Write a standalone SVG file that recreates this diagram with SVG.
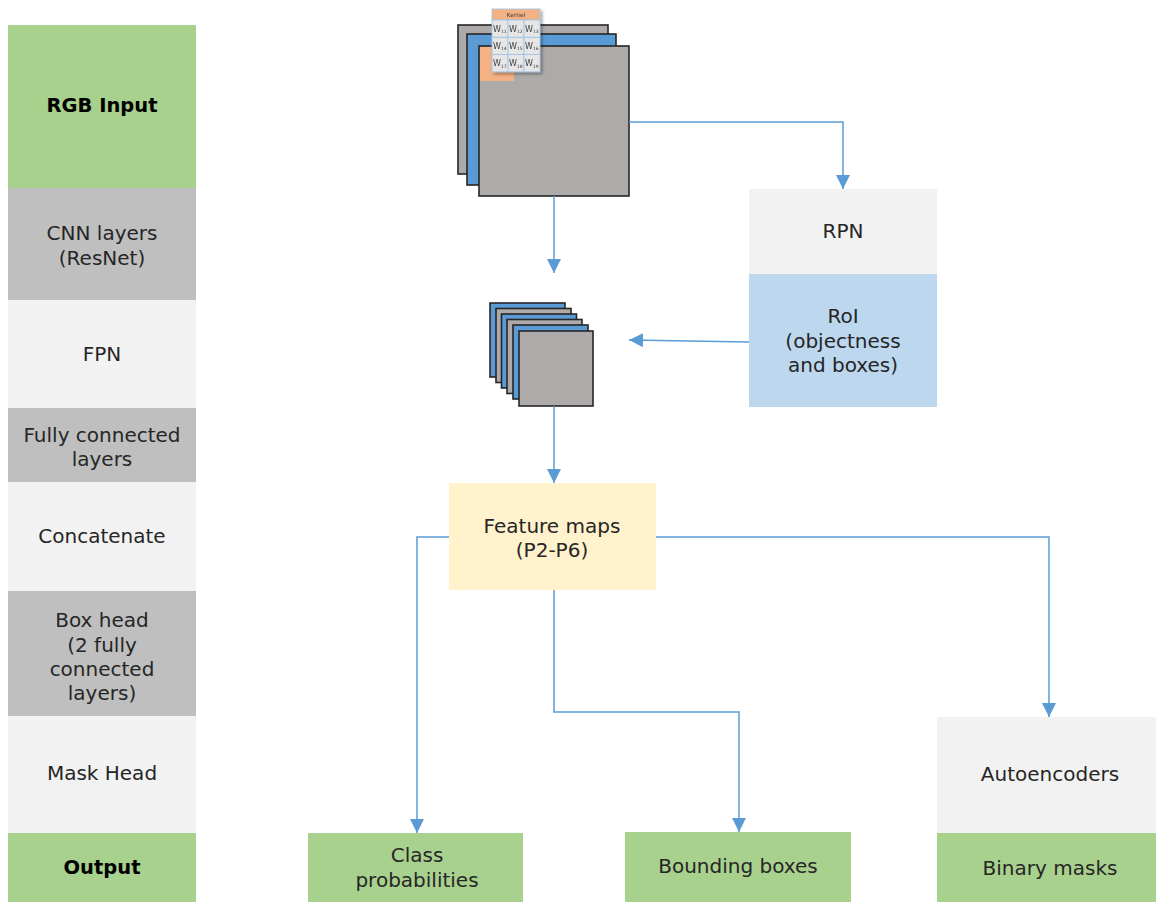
<svg xmlns="http://www.w3.org/2000/svg" width="1156" height="902" viewBox="0 0 1156 902">
  <style>
    .lbl { font-family: "DejaVu Sans", Verdana, sans-serif; font-size: 20px; fill: #262626; text-anchor: middle; }
    .bold { font-weight: bold; fill: #000; font-size: 19.5px; }
    .green { fill: #A9D18E; }
    .grey { fill: #BFBFBF; }
    .light { fill: #F2F2F2; }
    .blue { fill: #BDD7EE; }
    .cream { fill: #FFF2CC; }
    .sheet { stroke: #262626; stroke-width: 1.6; }
    .sheetg { fill: #AEAAAA; }
    .sheetb { fill: #5B9BD5; }
    .conn { fill: none; stroke: #5B9BD5; stroke-width: 1.5; marker-end: url(#arrow); }
    .cell { fill: #E7E6E6; stroke: #9DC3E6; stroke-width: 0.8; }
    .w { font-family: "DejaVu Sans", Verdana, sans-serif; font-size: 8px; fill: #404040; }
    .sub { font-size: 4.5px; }
  </style>
  <defs>
    <marker id="arrow" markerUnits="userSpaceOnUse" markerWidth="14" markerHeight="14" viewBox="0 0 14 14" refX="14" refY="7" orient="auto">
      <path d="M0,0 L14,7 L0,14 z" fill="#5B9BD5"/>
    </marker>
    <filter id="shadow" x="-20%" y="-20%" width="150%" height="150%">
      <feDropShadow dx="2" dy="2" stdDeviation="1.5" flood-color="#000" flood-opacity="0.35"/>
    </filter>
  </defs>

  <rect width="1156" height="902" fill="#FFFFFF"/>

  <!-- stage column on the left -->
  <g id="stage-rgb-input">
    <rect class="green" x="8" y="25" width="188" height="163"/>
    <text class="lbl bold" x="102" y="112">RGB Input</text>
  </g>
  <g id="stage-cnn">
    <rect class="grey" x="8" y="188" width="188" height="112"/>
    <text class="lbl" x="102" y="240">CNN layers</text>
    <text class="lbl" x="102" y="265">(ResNet)</text>
  </g>
  <g id="stage-fpn">
    <rect class="light" x="8" y="300" width="188" height="108"/>
    <text class="lbl" x="102" y="361">FPN</text>
  </g>
  <g id="stage-fc">
    <rect class="grey" x="8" y="408" width="188" height="74"/>
    <text class="lbl" x="102" y="442">Fully connected</text>
    <text class="lbl" x="102" y="466">layers</text>
  </g>
  <g id="stage-concat">
    <rect class="light" x="8" y="482" width="188" height="109"/>
    <text class="lbl" x="102" y="543">Concatenate</text>
  </g>
  <g id="stage-box-head">
    <rect class="grey" x="8" y="591" width="188" height="125"/>
    <text class="lbl" x="102" y="627">Box head</text>
    <text class="lbl" x="102" y="652">(2 fully</text>
    <text class="lbl" x="102" y="676">connected</text>
    <text class="lbl" x="102" y="700">layers)</text>
  </g>
  <g id="stage-mask-head">
    <rect class="light" x="8" y="716" width="188" height="117"/>
    <text class="lbl" x="102" y="780">Mask Head</text>
  </g>
  <g id="stage-output">
    <rect class="green" x="8" y="833" width="188" height="69"/>
    <text class="lbl bold" x="102" y="874">Output</text>
  </g>

  <!-- RGB input sheets with convolution kernel -->
  <g id="input-image">
    <rect class="sheet sheetg" x="458" y="25" width="150" height="149"/>
    <rect class="sheet sheetb" x="467" y="34" width="149" height="151"/>
    <rect class="sheet sheetg" x="479" y="46" width="150" height="150"/>
    <rect x="480" y="47" width="34" height="34" fill="#F4B183"/>
    <g id="kernel" filter="url(#shadow)">
      <rect x="492" y="9" width="48" height="11" fill="#F4B183" stroke="#9DC3E6" stroke-width="0.8"/>
      <text x="516" y="17" font-family="DejaVu Sans, sans-serif" font-size="6" fill="#404040" text-anchor="middle">Kernel</text>
      <rect class="cell" x="492" y="20" width="16" height="17.3"/>
      <rect class="cell" x="508" y="20" width="16" height="17.3"/>
      <rect class="cell" x="524" y="20" width="16" height="17.3"/>
      <rect class="cell" x="492" y="37.3" width="16" height="17.3"/>
      <rect class="cell" x="508" y="37.3" width="16" height="17.3"/>
      <rect class="cell" x="524" y="37.3" width="16" height="17.3"/>
      <rect class="cell" x="492" y="54.6" width="16" height="17.3"/>
      <rect class="cell" x="508" y="54.6" width="16" height="17.3"/>
      <rect class="cell" x="524" y="54.6" width="16" height="17.3"/>
      <text class="w" x="493" y="31.5">W<tspan class="sub" dy="1.5">11</tspan></text>
      <text class="w" x="509" y="31.5">W<tspan class="sub" dy="1.5">12</tspan></text>
      <text class="w" x="525" y="31.5">W<tspan class="sub" dy="1.5">13</tspan></text>
      <text class="w" x="493" y="48.8">W<tspan class="sub" dy="1.5">14</tspan></text>
      <text class="w" x="509" y="48.8">W<tspan class="sub" dy="1.5">15</tspan></text>
      <text class="w" x="525" y="48.8">W<tspan class="sub" dy="1.5">16</tspan></text>
      <text class="w" x="493" y="66.1">W<tspan class="sub" dy="1.5">17</tspan></text>
      <text class="w" x="509" y="66.1">W<tspan class="sub" dy="1.5">18</tspan></text>
      <text class="w" x="525" y="66.1">W<tspan class="sub" dy="1.5">19</tspan></text>
    </g>
  </g>

  <!-- stacked FPN levels -->
  <g id="fpn-stack">
    <rect class="sheet sheetb" x="490" y="303" width="75" height="74"/>
    <rect class="sheet sheetg" x="496" y="308.5" width="75" height="74"/>
    <rect class="sheet sheetb" x="501.5" y="314" width="75" height="74"/>
    <rect class="sheet sheetg" x="507" y="319.5" width="75" height="74"/>
    <rect class="sheet sheetb" x="513" y="325" width="75" height="74"/>
    <rect class="sheet sheetg" x="519" y="331" width="74" height="75"/>
  </g>

  <g id="rpn">
    <rect class="light" x="749" y="189" width="188" height="85"/>
    <text class="lbl" x="843" y="238">RPN</text>
  </g>
  <g id="roi">
    <rect class="blue" x="749" y="274" width="188" height="133"/>
    <text class="lbl" x="843" y="323">RoI</text>
    <text class="lbl" x="843" y="348">(objectness</text>
    <text class="lbl" x="843" y="372">and boxes)</text>
  </g>

  <g id="feature-maps">
    <rect class="cream" x="449" y="483" width="207" height="107"/>
    <text class="lbl" x="552" y="533">Feature maps</text>
    <text class="lbl" x="552" y="557">(P2-P6)</text>
  </g>

  <g id="class-probabilities">
    <rect class="green" x="308" y="833" width="215" height="69"/>
    <text class="lbl" x="417" y="862">Class</text>
    <text class="lbl" x="417" y="887">probabilities</text>
  </g>
  <g id="bounding-boxes">
    <rect class="green" x="625" y="832" width="226" height="70"/>
    <text class="lbl" x="738" y="873">Bounding boxes</text>
  </g>
  <g id="autoencoders">
    <rect class="light" x="937" y="717" width="219" height="116"/>
    <text class="lbl" x="1050" y="781">Autoencoders</text>
  </g>
  <g id="binary-masks">
    <rect class="green" x="937" y="833" width="219" height="69"/>
    <text class="lbl" x="1050" y="875">Binary masks</text>
  </g>

  <!-- connectors -->
  <g id="connectors">
    <path class="conn" d="M629,122 H843 V189"/>
    <path class="conn" d="M554,196 V273"/>
    <path class="conn" d="M749,342 L629,340"/>
    <path class="conn" d="M554,406 V483"/>
    <path class="conn" d="M449,537 H417 V833"/>
    <path class="conn" d="M554,590 V712 H739 V832"/>
    <path class="conn" d="M656,537 H1049 V717"/>
  </g>
</svg>
